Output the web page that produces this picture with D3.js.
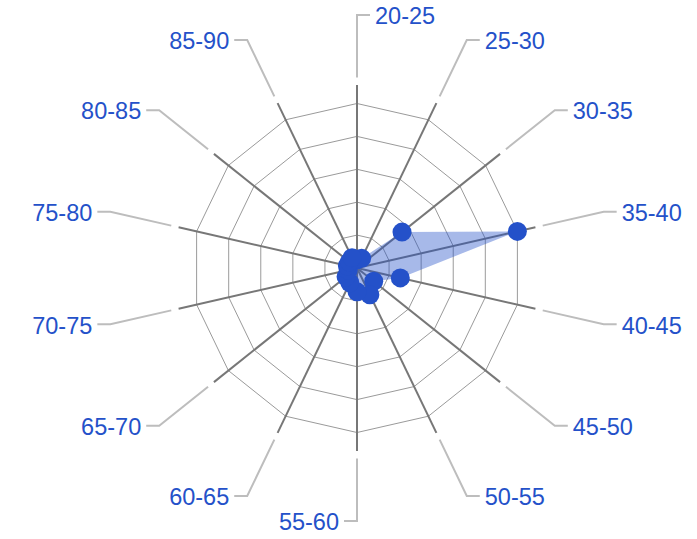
<!DOCTYPE html>
<html>
<head>
<meta charset="utf-8">
<script src="https://cdn.jsdelivr.net/npm/d3@7"></script>
<style>
  html, body { margin: 0; padding: 0; background: #fff; }
  svg { display: block; font-family: "Liberation Sans", Arial, sans-serif; }
</style>
</head>
<body>
<div id="js_radar"></div>
<script>
// age bands, clockwise from the top
var categories = ["20-25", "25-30", "30-35", "35-40", "40-45", "45-50", "50-55",
                  "55-60", "60-65", "65-70", "70-75", "75-80", "80-85", "85-90"];
var values = [5, 6.5, 35, 100, 27, 13, 18, 14.5, 10, 8.5, 5.5, 6, 6, 7];
var gridLevels = [20, 40, 60, 80, 100];

var width = 697, height = 539;
var cx = 357, cy = 268;
var blue = "#2451c9";

var svg = d3.select("#js_radar")
  .append("svg")
  .attr("width", width)
  .attr("height", height);

var g = svg.append("g").attr("transform", "translate(" + cx + "," + cy + ")");

var r = d3.scaleLinear().domain([0, 100]).range([0, 164.5]);
var angle = d3.scaleLinear().domain([0, categories.length]).range([0, 2 * Math.PI]);

function pt(i, rad) {
  var a = angle(i);
  return [rad * Math.sin(a), -rad * Math.cos(a)];
}

// grid rings
g.append("g")
  .selectAll("path")
  .data(gridLevels)
  .join("path")
    .attr("d", v => d3.line()(categories.map((c, i) => pt(i, r(v)))) + "Z")
    .attr("fill", "none")
    .attr("stroke", "#9a9a9a")
    .attr("stroke-width", 1);

// spokes
g.append("g")
  .selectAll("line")
  .data(categories)
  .join("line")
    .attr("x1", 0).attr("y1", 0)
    .attr("x2", (d, i) => pt(i, 183)[0])
    .attr("y2", (d, i) => pt(i, 183)[1])
    .attr("stroke", "#777")
    .attr("stroke-width", 2);

// filled area
var pts = values.map((v, i) => pt(i, r(v)));
g.append("path")
  .attr("d", d3.line()(pts) + "Z")
  .attr("fill", blue)
  .attr("fill-opacity", 0.4)
  .attr("stroke", "none");

// dots
g.append("g")
  .selectAll("circle")
  .data(pts)
  .join("circle")
    .attr("cx", d => d[0])
    .attr("cy", d => d[1])
    .attr("r", 9.5)
    .attr("fill", blue);

// label connectors + labels
var labels = g.append("g");
categories.forEach(function(c, i) {
  var right = angle(i) < Math.PI - 1e-6;
  var p0 = pt(i, 190.5), p1 = pt(i, 253);
  var x2 = p1[0] + (right ? 13 : -13);
  labels.append("path")
    .attr("d", d3.line()([p0, p1, [x2, p1[1]]]))
    .attr("fill", "none")
    .attr("stroke", "#bdbdbd")
    .attr("stroke-width", 2);
  labels.append("text")
    .attr("x", x2 + (right ? 5 : -5))
    .attr("y", p1[1] + 1)
    .attr("dy", "0.35em")
    .attr("text-anchor", right ? "start" : "end")
    .attr("fill", blue)
    .attr("font-size", 23.5)
    .text(c);
});
</script>
</body>
</html>
